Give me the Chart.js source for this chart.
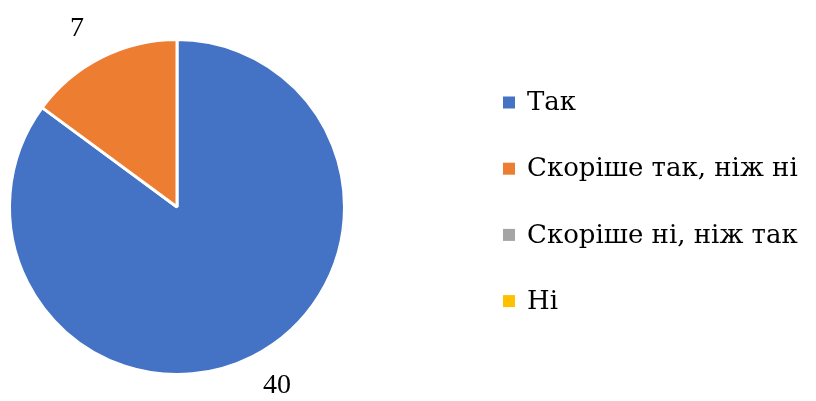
<!DOCTYPE html>
<html>
<head>
<meta charset="utf-8">
<script src="https://cdn.jsdelivr.net/npm/chart.js@4.4.1/dist/chart.umd.min.js"></script>
<style>
  html, body { margin: 0; padding: 0; background: #fff; }
  #wrap { width: 816px; height: 401px; }
</style>
</head>
<body>
<div id="wrap"><canvas id="myChart"></canvas></div>
<script>
// data block
const categories = ['Так', 'Скоріше так, ніж ні', 'Скоріше ні, ніж так', 'Ні'];
const answers = [40, 7, 0, 0];
const sliceColors = ['#4472C4', '#ED7D31', '#A5A5A5', '#FFC000'];

const serif = "'DejaVu Serif', serif";

// value labels outside the slices + legend on the right
const sideLabels = {
    id: 'sideLabels',
    afterDraw(chart) {
        const { ctx } = chart;
        const meta = chart.getDatasetMeta(0);
        ctx.save();
        ctx.fillStyle = '#000';
        ctx.font = "28px 'Liberation Serif', serif";
        ctx.textAlign = 'center';
        ctx.textBaseline = 'middle';
        meta.data.forEach((arc, i) => {
            const v = chart.data.datasets[0].data[i];
            if (!v) return;
            const mid = (arc.startAngle + arc.endAngle) / 2 - 2.5 * Math.PI / 180;
            const r = arc.outerRadius + 37;
            ctx.fillText(String(v), arc.x + Math.cos(mid) * r, arc.y + Math.sin(mid) * r);
        });

        // legend
        const legendX = 503;
        const legendTop = 102.5;
        const step = 66.2;
        ctx.font = '26px ' + serif;
        ctx.textAlign = 'left';
        chart.data.labels.forEach((lab, i) => {
            const cy = legendTop + i * step;
            ctx.fillStyle = sliceColors[i];
            ctx.fillRect(legendX, cy - 6, 12, 12);
            ctx.fillStyle = '#000';
            ctx.fillText(lab, legendX + 24, cy + 1);
        });
        ctx.restore();
    }
};

const config = {
    type: 'pie',
    data: {
        labels: categories,
        datasets: [{
            data: answers,
            backgroundColor: sliceColors,
            borderColor: '#fff',
            borderWidth: 3
        }]
    },
    options: {
        responsive: true,
        maintainAspectRatio: false,
        animation: false,
        layout: {
            padding: { left: 8, right: 470, top: 38, bottom: 25 }
        },
        plugins: {
            legend: { display: false },
            tooltip: { enabled: false }
        }
    },
    plugins: [sideLabels]
};

let myChart;
Promise.all([
    document.fonts.load("28px 'Liberation Serif'"),
    document.fonts.load("26px 'DejaVu Serif'")
]).then(() => {
    myChart = new Chart(document.getElementById('myChart'), config);
});
</script>
</body>
</html>
